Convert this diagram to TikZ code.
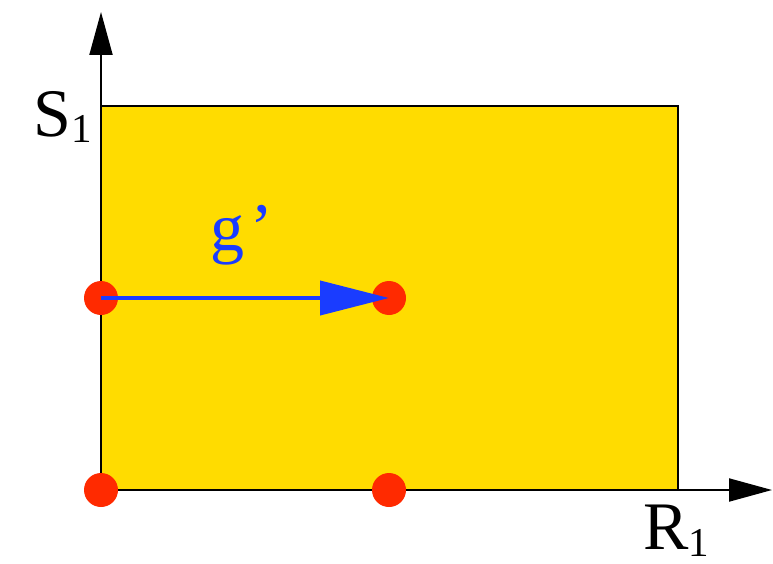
\documentclass[tikz,border=0pt]{standalone}
\usepackage{fontspec}
\setmainfont{Liberation Serif}
\usetikzlibrary{arrows.meta}
\definecolor{fillyellow}{HTML}{FFDC00}
\definecolor{dotred}{HTML}{FF2A00}
\definecolor{arrowblue}{HTML}{1A3CFF}
\tikzset{
  dot/.style={circle,fill=dotred,inner sep=0pt,minimum size=34pt},
  axis/.style={line width=2pt,-{Triangle[length=43pt,width=23pt]}},
  biglabel/.style={inner sep=0pt,font=\fontsize{68}{70}\selectfont},
}
\begin{document}
\begin{tikzpicture}[x=1pt,y=-1pt]
\useasboundingbox (0,0) rectangle (773,564);
% rectangle
\draw[line width=2pt,fill=fillyellow] (101,106) rectangle (678,490);
% axes
\coordinate (O) at (101,490);
\coordinate (ytip) at (101,12);
\coordinate (xtip) at (772,490);
\draw[axis] (O) -- (ytip);
\draw[axis] (O) -- (xtip);
% labels
\node[biglabel,anchor=base west] (S) at (33,137) {S\raisebox{-6pt}{\fontsize{41}{41}\selectfont 1}};
\node[biglabel,anchor=base west] (R) at (643,549) {R\raisebox{-7pt}{\fontsize{41}{41}\selectfont 1}};
% dots
\node[dot] (a) at (101,298) {};
\node[dot] (b) at (389,298) {};
\node[dot] (c) at (101,490) {};
\node[dot] (d) at (389,490) {};
% g' arrow
\draw[arrowblue,line width=4pt,-{Triangle[length=69pt,width=34pt]}] (a.center) -- (b.center);
\node[biglabel,text=arrowblue,anchor=base west] (g) at (210,250) {g\kern6pt’};
\end{tikzpicture}
\end{document}
